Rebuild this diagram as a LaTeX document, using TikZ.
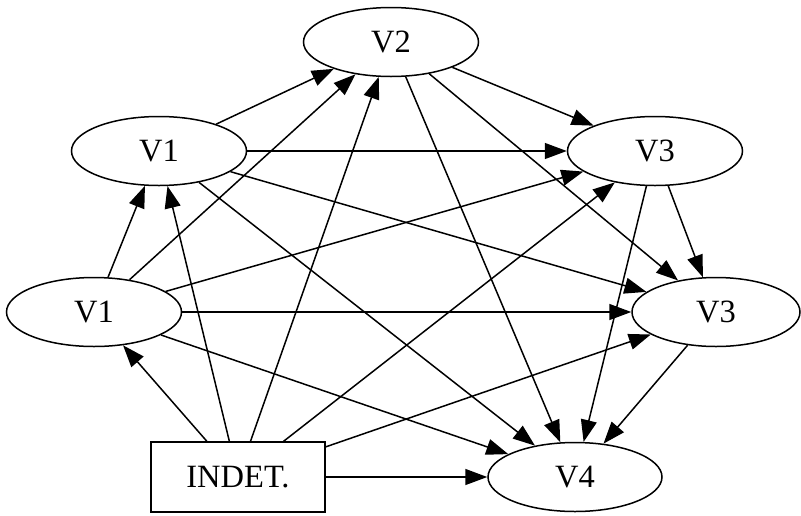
\documentclass[tikz,border=0pt]{standalone}
\usepackage{fontspec}
\setmainfont{Liberation Serif}
\usetikzlibrary{shapes.geometric,arrows.meta}

\begin{document}
\begin{tikzpicture}[x=1pt,y=-1pt,
  state/.style={ellipse,draw,line width=1.5pt,minimum width=175pt,minimum height=69pt,
    inner sep=0pt,font=\fontsize{32.5}{38}\selectfont},
  sourcebox/.style={rectangle,draw,line width=1.5pt,minimum width=174pt,minimum height=70pt,
    inner sep=0pt,font=\fontsize{32.5}{38}\selectfont},
  edge/.style={line width=1.5pt,-{Triangle[length=22pt,width=16pt]}}]
  \useasboundingbox (0,0) rectangle (801,515);

  % nodes
  \node[state] (v2) at (391,42) {V2};
  \node[state] (v1a) at (159,151) {V1};
  \node[state] (v3a) at (655,151) {V3};
  \node[state] (v1b) at (94,312) {V1};
  \node[state,minimum width=168pt] (v3b) at (716,312) {V3};
  \node[state,minimum width=174pt] (v4) at (575,477) {V4};
  \node[sourcebox] (ind) at (238,477) {INDET.};

  % edges from INDET.
  \draw[edge] (ind) -- (v1b);
  \draw[edge] (ind) -- (v1a);
  \draw[edge] (ind) -- (v2);
  \draw[edge] (ind) -- (v3a);
  \draw[edge] (ind) -- (v3b);
  \draw[edge] (ind) -- (v4);

  % edges from the lower V1
  \draw[edge] (v1b) -- (v1a);
  \draw[edge] (v1b) -- (v2);
  \draw[edge] (v1b) -- (v3a);
  \draw[edge] (v1b) -- (v3b);
  \draw[edge] (v1b) -- (v4);

  % edges from the upper V1
  \draw[edge] (v1a) -- (v2);
  \draw[edge] (v1a) -- (v3a);
  \draw[edge] (v1a) -- (v3b);
  \draw[edge] (v1a) -- (v4);

  % edges from V2
  \draw[edge] (v2) -- (v3a);
  \draw[edge] (v2) -- (v3b);
  \draw[edge] (v2) -- (v4);

  % edges between V3 and V4
  \draw[edge] (v3a) -- (v3b);
  \draw[edge] (v3a) -- (v4);
  \draw[edge] (v3b) -- (v4);
\end{tikzpicture}
\end{document}
